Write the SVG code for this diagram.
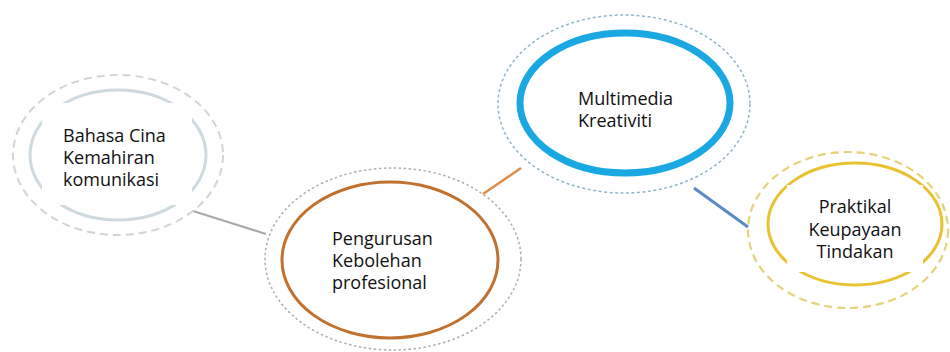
<svg xmlns="http://www.w3.org/2000/svg" width="950" height="352" viewBox="0 0 950 352">
<style>
text{font-family:"Open Sans","Noto Sans","Liberation Sans",sans-serif;font-size:18px;fill:#111}
.conn{fill:none;stroke-linecap:butt}
</style>
<rect width="950" height="352" fill="#fff"/>
<g id="connectors">
<line class="conn" x1="193" y1="211" x2="266" y2="234" stroke="#a9a9a9" stroke-width="2.2"/>
<line class="conn" x1="483" y1="194" x2="521" y2="168" stroke="#e08a4c" stroke-width="2.5"/>
<line class="conn" x1="694" y1="188" x2="748" y2="227" stroke="#5b8ac6" stroke-width="3"/>
</g>
<g id="node-bahasa">
<ellipse cx="118" cy="155" rx="105" ry="80" fill="none" stroke="#d2d4d6" stroke-width="2" stroke-dasharray="8 5"/>
<ellipse cx="118" cy="155" rx="88" ry="65" fill="#fff" stroke="#cfdade" stroke-width="3"/>
<rect x="42" y="103" width="150" height="102" fill="#fff"/>
<text x="63" y="142">Bahasa Cina</text>
<text x="63" y="164">Kemahiran</text>
<text x="63" y="186">komunikasi</text>
</g>
<g id="node-pengurusan">
<ellipse cx="393" cy="259" rx="128" ry="91" fill="none" stroke="#b5aca4" stroke-width="1.5" stroke-dasharray="2.5 2.5"/>
<ellipse cx="390" cy="260" rx="108" ry="78" fill="#fff" stroke="#c0712f" stroke-width="3"/>
<text x="332" y="245">Pengurusan</text>
<text x="332" y="267">Kebolehan</text>
<text x="332" y="289">profesional</text>
</g>
<g id="node-multimedia">
<ellipse cx="624" cy="104" rx="126" ry="89" fill="none" stroke="#8fb6c8" stroke-width="1.5" stroke-dasharray="3 2.5"/>
<ellipse cx="625" cy="103" rx="105" ry="70" fill="#fff" stroke="#19a8e2" stroke-width="7"/>
<text x="578" y="105">Multimedia</text>
<text x="578" y="127">Kreativiti</text>
</g>
<g id="node-praktikal">
<ellipse cx="848" cy="230" rx="100" ry="78" fill="none" stroke="#e6d27a" stroke-width="2.2" stroke-dasharray="8 5"/>
<ellipse cx="855" cy="224" rx="87" ry="61" fill="#fff" stroke="#e9c232" stroke-width="3"/>
<rect x="787" y="185" width="136" height="87" fill="#fff"/>
<text x="855" y="213" text-anchor="middle">Praktikal</text>
<text x="855" y="236" text-anchor="middle">Keupayaan</text>
<text x="855" y="258" text-anchor="middle">Tindakan</text>
</g>
</svg>
